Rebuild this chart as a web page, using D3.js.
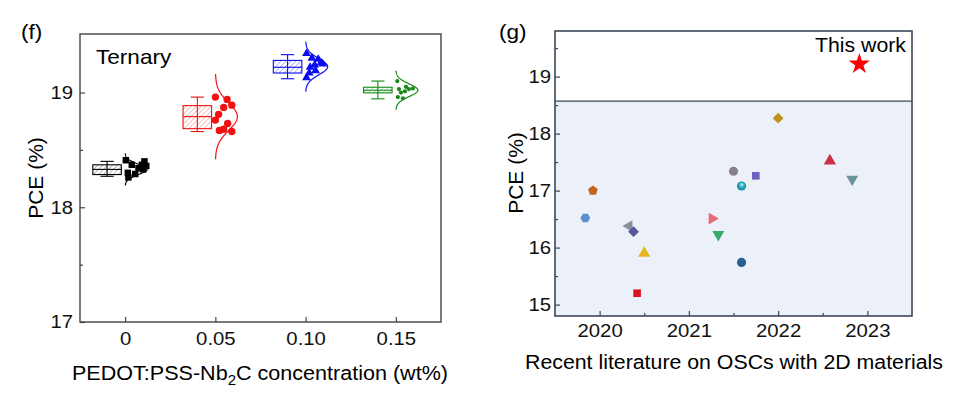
<!DOCTYPE html>
<html>
<head>
<meta charset="utf-8">
<script src="https://cdn.jsdelivr.net/npm/d3@7"></script>
<style>
  body { margin: 0; background: #fff; }
  svg { display: block; font-family: Arial, "Liberation Sans", sans-serif; }
</style>
</head>
<body>
<svg id="chart" width="966" height="398"></svg>
<script>
// ---- (f) ternary device statistics ----
const concValues = [0, 0.05, 0.10, 0.15];
const concLabels = ['0', '0.05', '0.10', '0.15'];
const groupColors = ['#000000', '#f01010', '#0a0af0', '#148a14'];

// box statistics per concentration
const whiskerLow = [18.27, 18.66, 19.12, 18.945];
const boxLow = [18.285, 18.685, 19.17, 18.997];
const medians = [18.33, 18.79, 19.22, 19.02];
const boxHigh = [18.37, 18.886, 19.28, 19.046];
const whiskerHigh = [18.40, 18.96, 19.33, 19.10];

// normal curve fitted to each group
const fitMean = [18.33, 18.79, 19.225, 19.02];
const fitSigma = [0.045, 0.12, 0.07, 0.055];

// individual devices: [x jitter (wt%), PCE]
const pce0 = [[0.0004, 18.41], [0.0037, 18.37], [0.0107, 18.40], [0.0074, 18.34], [0.0015, 18.30],
  [0.0056, 18.29], [0.0018, 18.26], [0.0093, 18.37], [0.0100, 18.33], [0.0117, 18.36]];
const pce005 = [[0.0000, 18.96], [0.0065, 18.94], [0.0091, 18.89], [0.0046, 18.87], [0.0018, 18.81],
  [0.0000, 18.76], [0.0068, 18.73], [0.0022, 18.67], [0.0046, 18.68], [0.0091, 18.66]];
const pce010 = [[0.0005, 19.34], [0.0035, 19.30], [0.0070, 19.29], [0.0095, 19.25], [0.0050, 19.24],
  [0.0025, 19.22], [0.0055, 19.19], [0.0020, 19.17], [0.0005, 19.13], [0.0085, 19.26]];
const pce015 = [[0.0008, 19.10], [0.0017, 19.03], [0.0056, 19.05], [0.0072, 19.03], [0.0028, 19.00],
  [0.0011, 18.96], [0.0039, 18.95], [0.0094, 19.035], [0.0050, 19.01]];
const groupPoints = [pce0, pce005, pce010, pce015];

// ---- (g) literature comparison ----
const litYears = [2019.84, 2019.925, 2020.33, 2020.38, 2020.50, 2020.42, 2021.26, 2021.33,
  2021.59, 2021.50, 2021.59, 2021.75, 2022.0, 2022.58, 2022.83, 2022.91];
const litPce = [16.52, 17.00, 16.38, 16.28, 15.90, 15.20, 16.51, 16.23,
  15.74, 17.34, 17.08, 17.26, 18.27, 17.52, 17.20, 19.22];
const yearTicks = [2020, 2021, 2022, 2023];
const pceTicksG = [15, 16, 17, 18, 19];
const prevBest = 18.57; // shaded area = previous reports

const svg = d3.select('#chart');
const defs = svg.append('defs');

// the source figure is a bit wider than tall, so stretch the text horizontally
const STRETCH = 1.13;
const stretch = sel => sel.each(function () {
  const t = d3.select(this);
  const x = +t.attr('x') || 0, y = +t.attr('y') || 0;
  const prev = t.attr('transform') || '';
  t.attr('transform', `${prev} translate(${x},${y}) scale(${STRETCH},1) translate(${-x},${-y})`);
});

// custom symbol types (regular polygons with a rotation)
const polygon = (n, rot = 0) => ({
  draw(context, size) {
    const r = Math.sqrt(size / (n / 2 * Math.sin(2 * Math.PI / n)));
    for (let i = 0; i < n; i++) {
      const a = rot + i * 2 * Math.PI / n;
      const x = r * Math.sin(a), y = -r * Math.cos(a);
      i ? context.lineTo(x, y) : context.moveTo(x, y);
    }
    context.closePath();
  }
});
const shapes = {
  circle: d3.symbolCircle,
  square: d3.symbolSquare,
  diamond: polygon(4),
  hexagon: polygon(6, Math.PI / 6),
  pentagon: polygon(5),
  up: polygon(3),
  down: polygon(3, Math.PI),
  left: polygon(3, -Math.PI / 2),
  right: polygon(3, Math.PI / 2),
  star: d3.symbolStar
};

// marker style per literature entry
const litMarkers = [
  ['hexagon', '#5b8fd0', 62], ['pentagon', '#c2651a', 62], ['left', '#8a8f99', 58],
  ['diamond', '#55559a', 58], ['up', '#e8b51e', 66], ['square', '#d8141c', 58],
  ['right', '#e86a78', 60], ['down', '#3aaa6a', 62], ['circle', '#2b5d95', 66],
  ['circle', '#8a7f88', 66], ['circle', 'url(#sphere)', 66], ['square', '#6a64c0', 58],
  ['diamond', '#c0901c', 58], ['up', '#c83244', 66], ['down', '#6a9498', 62],
  ['star', '#ff0000', 140]
];

const sphere = defs.append('radialGradient').attr('id', 'sphere')
  .attr('cx', 0.5).attr('cy', 0.5).attr('r', 0.55).attr('fx', 0.55).attr('fy', 0.3);
sphere.append('stop').attr('offset', '0%').attr('stop-color', '#d8f8fa');
sphere.append('stop').attr('offset', '45%').attr('stop-color', '#2cb2c0');
sphere.append('stop').attr('offset', '100%').attr('stop-color', '#127f8c');

// hatch fill for boxes
groupColors.forEach((c, i) => {
  const p = defs.append('pattern').attr('id', `hatch${i}`)
    .attr('patternUnits', 'userSpaceOnUse').attr('width', 3.5).attr('height', 3.5)
    .attr('patternTransform', 'rotate(45)');
  p.append('line').attr('x1', 0).attr('y1', 0).attr('x2', 0).attr('y2', 3.5)
    .attr('stroke', c).attr('stroke-width', 1).attr('stroke-opacity', 0.55);
});

const styleAxis = (g, color = '#444') => {
  g.select('.domain').remove();
  g.selectAll('.tick line').attr('stroke', color).attr('stroke-width', 1.2);
  g.selectAll('.tick text').attr('fill', '#111').attr('font-size', 18).call(stretch);
};

// ================= panel (f) =================
const xF = d3.scaleLinear([-0.025, 0.175], [80, 441]);
const yF = d3.scaleLinear([17, 19.51], [322, 34]);

svg.append('text').attr('x', 21).attr('y', 39).attr('font-size', 20).text('(f)').call(stretch);

const axF = svg.append('g');
axF.append('g').attr('transform', 'translate(0,322)')
  .call(d3.axisBottom(xF).tickValues(concValues).tickFormat((d, i) => concLabels[i])
    .tickSizeInner(-5).tickSizeOuter(0).tickPadding(10))
  .call(styleAxis);
axF.append('g').attr('transform', 'translate(80,0)')
  .call(d3.axisLeft(yF).tickValues([17, 18, 19]).tickFormat(d3.format('d'))
    .tickSizeInner(-5).tickSizeOuter(0).tickPadding(7))
  .call(styleAxis);
axF.append('g').attr('transform', 'translate(80,0)')
  .call(d3.axisLeft(yF).tickValues([17.5, 18.5]).tickFormat('').tickSizeInner(-3).tickSizeOuter(0))
  .call(styleAxis);
svg.append('rect').attr('x', xF.range()[0]).attr('y', yF.range()[1])
  .attr('width', xF.range()[1] - xF.range()[0]).attr('height', yF.range()[0] - yF.range()[1])
  .attr('fill', 'none').attr('stroke', '#444').attr('stroke-width', 1.4);

svg.append('text').attr('x', 96).attr('y', 64).attr('font-size', 20).text('Ternary').call(stretch);

const boxOffset = -0.0100, boxHalf = 0.0079, capHalf = 0.0037, peakWidth = 0.0122;
concValues.forEach((c, i) => {
  const g = svg.append('g').attr('stroke', groupColors[i]).attr('fill', 'none').attr('stroke-width', 1.1);
  const bx = c + boxOffset;
  g.append('line').attr('x1', xF(bx)).attr('x2', xF(bx)).attr('y1', yF(whiskerLow[i])).attr('y2', yF(whiskerHigh[i]));
  [whiskerLow[i], whiskerHigh[i]].forEach(v => g.append('line')
    .attr('x1', xF(bx - capHalf)).attr('x2', xF(bx + capHalf)).attr('y1', yF(v)).attr('y2', yF(v)));
  g.append('rect').attr('x', xF(bx - boxHalf)).attr('width', xF(bx + boxHalf) - xF(bx - boxHalf))
    .attr('y', yF(boxHigh[i])).attr('height', yF(boxLow[i]) - yF(boxHigh[i]))
    .attr('fill', `url(#hatch${i})`);
  g.append('line').attr('x1', xF(bx - boxHalf)).attr('x2', xF(bx + boxHalf))
    .attr('y1', yF(medians[i])).attr('y2', yF(medians[i]));

  // fitted normal distribution
  const mu = fitMean[i], s = fitSigma[i];
  const ys = d3.range(-3.1, 3.1001, 0.05).map(k => mu + k * s);
  const curve = d3.line()
    .x(v => xF(c + peakWidth * Math.exp(-((v - mu) ** 2) / (2 * s * s))))
    .y(v => yF(v));
  g.append('path').attr('d', curve(ys)).attr('stroke-width', 1.2);

  const sym = [d3.symbol(d3.symbolSquare, 42), d3.symbol(d3.symbolCircle, 42),
    d3.symbol(shapes.up, 34), d3.symbol(d3.symbolCircle, 14)][i];
  svg.append('g').selectAll('path').data(groupPoints[i]).join('path')
    .attr('transform', ([dx, v]) => `translate(${xF(c + dx)},${yF(v)})`)
    .attr('d', sym).attr('fill', groupColors[i]);
});

svg.append('text').attr('transform', 'translate(43,178) rotate(-90)')
  .attr('text-anchor', 'middle').attr('font-size', 21).text('PCE (%)');
const xt = svg.append('text').attr('x', 260).attr('y', 380).attr('text-anchor', 'middle')
  .attr('font-size', 20).attr('textLength', 376).attr('lengthAdjust', 'spacingAndGlyphs');
xt.append('tspan').text('PEDOT:PSS-Nb');
xt.append('tspan').attr('font-size', 14).attr('dy', 5).text('2');
xt.append('tspan').attr('dy', -5).text('C concentration (wt%)');

// ================= panel (g) =================
const xG = d3.scaleLinear([2019.5, 2023.5], [555, 912]);
const yG = d3.scaleLinear([14.8, 19.8], [316, 31]);

svg.append('text').attr('x', 499).attr('y', 39).attr('font-size', 20).text('(g)').call(stretch);

svg.append('rect').attr('x', xG.range()[0]).attr('y', yG(prevBest))
  .attr('width', xG.range()[1] - xG.range()[0]).attr('height', yG.range()[0] - yG(prevBest))
  .attr('fill', '#ebf0f9');
svg.append('line').attr('x1', xG.range()[0]).attr('x2', xG.range()[1])
  .attr('y1', yG(prevBest)).attr('y2', yG(prevBest)).attr('stroke', '#3c4858').attr('stroke-width', 1.2);

const frameG = '#3c4858';
svg.append('g').attr('transform', 'translate(0,316)')
  .call(d3.axisBottom(xG).tickValues(yearTicks).tickFormat(d3.format('d'))
    .tickSizeInner(-5).tickSizeOuter(0).tickPadding(8))
  .call(g => styleAxis(g, frameG));
svg.append('g').attr('transform', 'translate(0,316)')
  .call(d3.axisBottom(xG).tickValues(yearTicks.map(d => d + 0.5).slice(0, 3)).tickFormat('')
    .tickSizeInner(-3).tickSizeOuter(0))
  .call(g => styleAxis(g, frameG));
svg.append('g').attr('transform', 'translate(555,0)')
  .call(d3.axisLeft(yG).tickValues(pceTicksG).tickFormat(d3.format('d'))
    .tickSizeInner(-5).tickSizeOuter(0).tickPadding(4))
  .call(g => styleAxis(g, frameG));
svg.append('g').attr('transform', 'translate(555,0)')
  .call(d3.axisLeft(yG).tickValues(pceTicksG.map(d => d + 0.5)).tickFormat('')
    .tickSizeInner(-3).tickSizeOuter(0))
  .call(g => styleAxis(g, frameG));
svg.append('rect').attr('x', xG.range()[0]).attr('y', yG.range()[1])
  .attr('width', xG.range()[1] - xG.range()[0]).attr('height', yG.range()[0] - yG.range()[1])
  .attr('fill', 'none').attr('stroke', frameG).attr('stroke-width', 1.6);

svg.append('g').selectAll('path').data(litYears).join('path')
  .attr('transform', (d, i) => `translate(${xG(d)},${yG(litPce[i])})`)
  .attr('d', (d, i) => d3.symbol(shapes[litMarkers[i][0]], litMarkers[i][2])())
  .attr('fill', (d, i) => litMarkers[i][1]);

svg.append('text').attr('x', 815).attr('y', 52)
  .attr('font-size', 20).attr('textLength', 91).attr('lengthAdjust', 'spacingAndGlyphs').text('This work');

svg.append('text').attr('transform', 'translate(523,173) rotate(-90)')
  .attr('text-anchor', 'middle').attr('font-size', 21).text('PCE (%)');
svg.append('text').attr('x', 734).attr('y', 369).attr('text-anchor', 'middle')
  .attr('font-size', 20).attr('textLength', 418).attr('lengthAdjust', 'spacingAndGlyphs')
  .text('Recent literature on OSCs with 2D materials');
</script>
</body>
</html>
